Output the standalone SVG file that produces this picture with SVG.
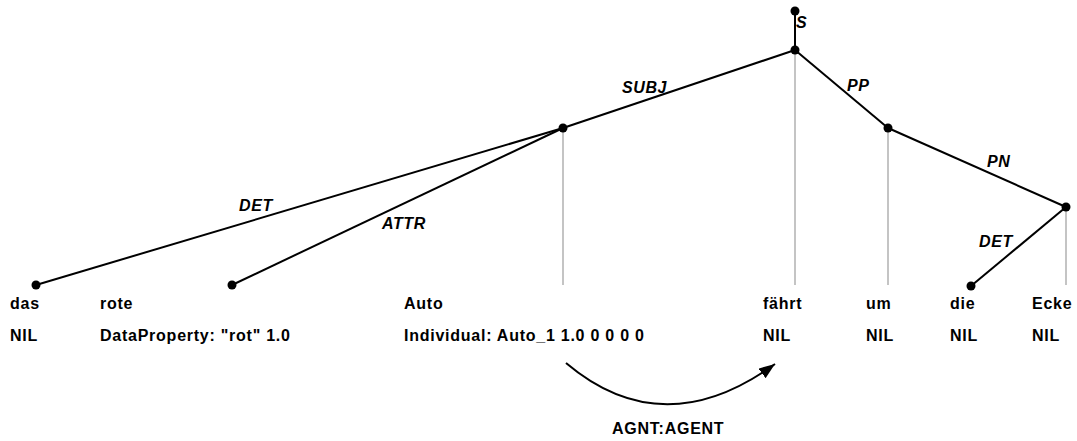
<svg xmlns="http://www.w3.org/2000/svg" width="1077" height="441" viewBox="0 0 1077 441">
  <style>
    .edge { stroke: #000; stroke-width: 2; fill: none; }
    .proj { stroke: #c4c4c4; stroke-width: 2; fill: none; }
    .dot { fill: #000; }
    .word { font-family: "Liberation Sans", Arial, sans-serif; font-size: 16px; font-weight: bold; letter-spacing: 0.75px; fill: #000; }
    .rel { font-family: "Liberation Sans", Arial, sans-serif; font-size: 16px; font-weight: bold; font-style: italic; letter-spacing: 0.6px; fill: #000; }
  </style>
  <defs>
    <marker id="arrow" viewBox="0 0 16 12" refX="16" refY="6" markerWidth="16" markerHeight="12" markerUnits="userSpaceOnUse" orient="auto">
      <path d="M0,0 L16,6 L0,12 Z" fill="#000"/>
    </marker>
  </defs>

  <!-- projection lines from inner nodes down to their words -->
  <g id="projections">
    <line class="proj" x1="795" y1="50" x2="795" y2="285"/>
    <line class="proj" x1="563" y1="128" x2="563" y2="285"/>
    <line class="proj" x1="888" y1="128" x2="888" y2="285"/>
    <line class="proj" x1="1066" y1="207" x2="1066" y2="285"/>
  </g>

  <!-- dependency edges -->
  <g id="connectors">
    <line class="edge" x1="795" y1="11" x2="795" y2="50"/>
    <line class="edge" x1="795" y1="50" x2="563" y2="128"/>
    <line class="edge" x1="563" y1="128" x2="36" y2="285"/>
    <line class="edge" x1="563" y1="128" x2="232" y2="285"/>
    <line class="edge" x1="795" y1="50" x2="888" y2="128"/>
    <line class="edge" x1="888" y1="128" x2="1066" y2="207"/>
    <line class="edge" x1="1066" y1="207" x2="971" y2="286"/>
    <path class="edge" d="M566,363 Q663,445 775,364" marker-end="url(#arrow)"/>
  </g>

  <!-- edge labels -->
  <g id="edge-labels">
    <text class="rel" x="796" y="28">S</text>
    <text class="rel" x="622" y="93">SUBJ</text>
    <text class="rel" x="847" y="91">PP</text>
    <text class="rel" x="987" y="167">PN</text>
    <text class="rel" x="979" y="247">DET</text>
    <text class="rel" x="239" y="211">DET</text>
    <text class="rel" x="382" y="229">ATTR</text>
    <text class="word" x="612" y="434">AGNT:AGENT</text>
  </g>

  <!-- tree nodes -->
  <g id="node-root"><circle class="dot" cx="795" cy="11" r="4.5"/></g>
  <g id="node-faehrt"><circle class="dot" cx="795" cy="50" r="4.5"/></g>
  <g id="node-auto"><circle class="dot" cx="563" cy="128" r="4.5"/></g>
  <g id="node-das"><circle class="dot" cx="36" cy="285" r="4.5"/></g>
  <g id="node-rote"><circle class="dot" cx="232" cy="285" r="4.5"/></g>
  <g id="node-um"><circle class="dot" cx="888" cy="128" r="4.5"/></g>
  <g id="node-ecke"><circle class="dot" cx="1066" cy="207" r="4.5"/></g>
  <g id="node-die"><circle class="dot" cx="971" cy="286" r="4.5"/></g>

  <!-- words and their annotations -->
  <g id="word-das">
    <text class="word" x="10" y="309">das</text>
    <text class="word" x="10" y="341">NIL</text>
  </g>
  <g id="word-rote">
    <text class="word" x="100" y="309">rote</text>
    <text class="word" x="100" y="341">DataProperty: "rot" 1.0</text>
  </g>
  <g id="word-auto">
    <text class="word" x="404" y="309">Auto</text>
    <text class="word" x="404" y="341">Individual: Auto_1 1.0 0 0 0 0</text>
  </g>
  <g id="word-faehrt">
    <text class="word" x="763" y="309">fährt</text>
    <text class="word" x="763" y="341">NIL</text>
  </g>
  <g id="word-um">
    <text class="word" x="866" y="309">um</text>
    <text class="word" x="866" y="341">NIL</text>
  </g>
  <g id="word-die">
    <text class="word" x="950" y="309">die</text>
    <text class="word" x="950" y="341">NIL</text>
  </g>
  <g id="word-ecke">
    <text class="word" x="1032" y="309">Ecke</text>
    <text class="word" x="1032" y="341">NIL</text>
  </g>
</svg>
